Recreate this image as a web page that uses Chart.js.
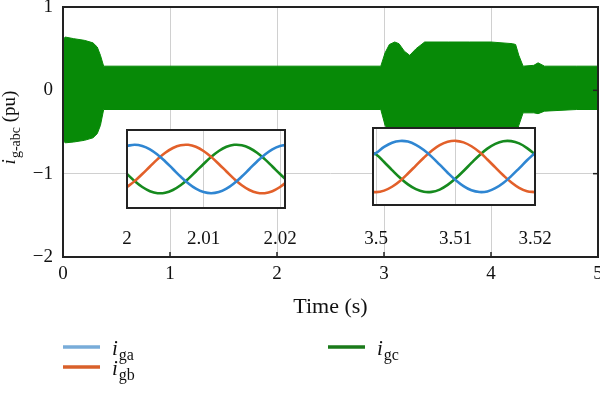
<!DOCTYPE html>
<html>
<head>
<meta charset="utf-8">
<script src="https://cdn.jsdelivr.net/npm/chart.js@4.4.1/dist/chart.umd.min.js"></script>
<style>
  html, body { margin: 0; padding: 0; background: #fff; }
  #wrap { position: relative; width: 600px; height: 393px; }
  canvas { position: absolute; }
</style>
</head>
<body>
<div id="wrap">
  <canvas id="mainChart" width="600" height="393" style="left:0;top:0"></canvas>
  <canvas id="inset1" width="200" height="126" style="left:107px;top:129px"></canvas>
  <canvas id="inset2" width="205" height="128" style="left:353px;top:127px"></canvas>
</div>
<script>
// envelope of the dense three-phase current (pu) over the whole run
var envTime  = [0, 0.02, 0.1, 0.2, 0.28, 0.32, 0.35, 0.38, 1, 2, 2.97, 3.01, 3.05, 3.1, 3.14, 3.19, 3.24, 3.3, 3.38, 3.6, 3.8, 4.0, 4.2, 4.23, 4.26, 4.3, 4.4, 4.44, 4.5, 4.8, 5];
var envUpper = [0.6, 0.64, 0.62, 0.6, 0.57, 0.52, 0.42, 0.29, 0.29, 0.29, 0.29, 0.45, 0.55, 0.58, 0.56, 0.47, 0.42, 0.5, 0.58, 0.58, 0.58, 0.58, 0.56, 0.55, 0.42, 0.29, 0.3, 0.33, 0.29, 0.29, 0.29];
var envLower = [-0.6, -0.63, -0.62, -0.6, -0.57, -0.52, -0.42, -0.23, -0.23, -0.23, -0.23, -0.42, -0.5, -0.55, -0.54, -0.48, -0.45, -0.5, -0.55, -0.55, -0.55, -0.55, -0.55, -0.54, -0.42, -0.27, -0.27, -0.28, -0.25, -0.23, -0.23];

// zoom 1: 2.00 - 2.02 s
var inset1Time = [2.000, 2.001, 2.002, 2.003, 2.004, 2.005, 2.006, 2.007, 2.008, 2.009, 2.010, 2.011, 2.012, 2.013, 2.014, 2.015, 2.016, 2.017, 2.018, 2.019, 2.020, 2.021];
var inset1A = [0.266, 0.28, 0.266, 0.227, 0.165, 0.087, 0, -0.087, -0.165, -0.227, -0.266, -0.28, -0.266, -0.227, -0.165, -0.087, 0, 0.087, 0.165, 0.227, 0.266, 0.28];
var inset1B = [-0.208, -0.14, -0.058, 0.029, 0.114, 0.187, 0.242, 0.274, 0.279, 0.256, 0.208, 0.14, 0.058, -0.029, -0.114, -0.187, -0.242, -0.274, -0.279, -0.256, -0.208, -0.14];
var inset1C = [-0.058, -0.14, -0.208, -0.256, -0.279, -0.274, -0.242, -0.187, -0.114, -0.029, 0.058, 0.14, 0.208, 0.256, 0.279, 0.274, 0.242, 0.187, 0.114, 0.029, -0.058, -0.14];
var inset1Ticks = [2, 2.01, 2.02];

// zoom 2: 3.50 - 3.52 s
var inset2Time = [3.499, 3.500, 3.501, 3.502, 3.503, 3.504, 3.505, 3.506, 3.507, 3.508, 3.509, 3.510, 3.511, 3.512, 3.513, 3.514, 3.515, 3.516, 3.517, 3.518, 3.519, 3.520];
var inset2A = [0.1, 0.148, 0.214, 0.26, 0.279, 0.272, 0.237, 0.18, 0.105, 0.02, -0.068, -0.148, -0.214, -0.26, -0.279, -0.272, -0.237, -0.18, -0.105, -0.02, 0.068, 0.148];
var inset2B = [-0.269, -0.28, -0.263, -0.221, -0.157, -0.077, 0.01, 0.096, 0.172, 0.232, 0.269, 0.28, 0.263, 0.221, 0.157, 0.077, -0.01, -0.096, -0.172, -0.232, -0.269, -0.28];
var inset2C = [0.17, 0.131, 0.049, -0.039, -0.123, -0.195, -0.247, -0.276, -0.277, -0.252, -0.201, -0.131, -0.049, 0.039, 0.123, 0.195, 0.247, 0.276, 0.277, 0.252, 0.201, 0.131];
var inset2Ticks = [3.5, 3.51, 3.52];

var seriesNames = ['ga', 'gb', 'gc'];
var lineColors = ['#2f86d2', '#e2602a', '#168a1e'];
var legendColors = ['#78acd9', '#d9602a', '#1a7a1a'];

var serif = '"Liberation Serif", "DejaVu Serif", serif';

function points(xs, ys) {
    return xs.map(function (x, i) { return { x: x, y: ys[i] }; });
}

function minusLabel(v) {
    return v < 0 ? '\u2212' + Math.abs(v) : String(v);
}

var frameAndText = {
    id: 'frameAndText',
    afterDatasetsDraw: function (chart) {
        var ctx = chart.ctx, a = chart.chartArea, sx = chart.scales.x, sy = chart.scales.y;
        ctx.save();
        ctx.strokeStyle = '#222';
        ctx.lineWidth = 1.5;
        [1, 2, 3, 4].forEach(function (v) {
            var px = sx.getPixelForValue(v);
            ctx.beginPath(); ctx.moveTo(px, a.bottom); ctx.lineTo(px, a.bottom - 5); ctx.stroke();
        });
        [0, -1].forEach(function (v) {
            var py = sy.getPixelForValue(v);
            ctx.beginPath(); ctx.moveTo(a.right, py); ctx.lineTo(a.right - 5, py); ctx.stroke();
        });
        ctx.lineWidth = 2;
        ctx.strokeRect(a.left, a.top, a.right - a.left, a.bottom - a.top);
        ctx.restore();
    },
    afterDraw: function (chart) {
        var ctx = chart.ctx;
        ctx.save();
        ctx.fillStyle = '#111';
        ctx.textBaseline = 'alphabetic';

        // y axis title: i_g-abc (pu)
        ctx.translate(15, 128);
        ctx.rotate(-Math.PI / 2);
        ctx.font = 'italic 19px ' + serif;
        var wI = ctx.measureText('i').width;
        ctx.font = '14px ' + serif;
        var wS = ctx.measureText('g-abc').width;
        ctx.font = '19px ' + serif;
        var wP = ctx.measureText(' (pu)').width;
        var x = -(wI + wS + wP) / 2;
        ctx.font = 'italic 19px ' + serif;
        ctx.fillText('i', x, 0); x += wI + 1;
        ctx.font = '14px ' + serif;
        ctx.fillText('g-abc', x, 5); x += wS;
        ctx.font = '19px ' + serif;
        ctx.fillText(' (pu)', x, 0);
        ctx.setTransform(1, 0, 0, 1, 0, 0);

        // legend
        var pos = [[63, 347], [63, 367], [328, 347]];
        seriesNames.forEach(function (name, i) {
            var lx = pos[i][0], ly = pos[i][1];
            ctx.strokeStyle = legendColors[i];
            ctx.lineWidth = 3.5;
            ctx.beginPath(); ctx.moveTo(lx, ly); ctx.lineTo(lx + 37, ly); ctx.stroke();
            ctx.font = 'italic 21px ' + serif;
            ctx.fillText('i', lx + 49, ly + 8);
            var w = ctx.measureText('i').width;
            ctx.font = '16px ' + serif;
            ctx.fillText(name, lx + 50 + w, ly + 13);
        });
        ctx.restore();
    }
};

var insetBox = {
    id: 'insetBox',
    beforeDraw: function (chart) {
        var ctx = chart.ctx, a = chart.chartArea;
        ctx.save();
        ctx.fillStyle = '#fff';
        ctx.fillRect(a.left, a.top, a.right - a.left, a.bottom - a.top);
        ctx.restore();
    },
    afterDraw: function (chart) {
        var ctx = chart.ctx, a = chart.chartArea;
        ctx.save();
        ctx.strokeStyle = '#222';
        ctx.lineWidth = 2;
        ctx.strokeRect(a.left, a.top, a.right - a.left, a.bottom - a.top);
        ctx.restore();
    }
};

new Chart(document.getElementById('mainChart').getContext('2d'), {
    type: 'line',
    data: {
        datasets: [
            {
                label: 'upper',
                data: points(envTime, envUpper),
                borderColor: '#078a07',
                backgroundColor: '#078a07',
                borderWidth: 1,
                pointRadius: 0,
                fill: 1
            },
            {
                label: 'lower',
                data: points(envTime, envLower),
                borderColor: '#078a07',
                borderWidth: 1,
                pointRadius: 0,
                fill: false
            }
        ]
    },
    options: {
        responsive: false,
        animation: false,
        devicePixelRatio: 1,
        layout: { padding: { top: 7, right: 2, left: 0, bottom: 73 } },
        plugins: { legend: { display: false }, tooltip: { enabled: false } },
        scales: {
            x: {
                type: 'linear',
                min: 0,
                max: 5,
                ticks: { stepSize: 1, padding: 6, color: '#111', font: { family: serif, size: 19 } },
                grid: { color: '#d0d0d0', drawTicks: false },
                border: { display: false },
                title: { display: true, text: 'Time (s)', color: '#111', font: { family: serif, size: 22 }, padding: 0 },
                afterFit: function (s) { s.height = 63; s.paddingLeft = 0; s.paddingRight = 0; }
            },
            y: {
                min: -2,
                max: 1,
                ticks: { stepSize: 1, padding: 10, color: '#111', font: { family: serif, size: 19 }, callback: minusLabel },
                grid: { color: '#d0d0d0', drawTicks: false },
                border: { display: false },
                afterFit: function (s) { s.width = 63; s.paddingTop = 0; s.paddingBottom = 0; }
            }
        }
    },
    plugins: [frameAndText]
});

function makeInset(id, times, a, b, c, tickVals, xMin, xMax, yRange, pad, axisH, labelPad) {
    var series = [a, b, c];
    new Chart(document.getElementById(id).getContext('2d'), {
        type: 'line',
        data: {
            datasets: series.map(function (vals, i) {
                return {
                    label: seriesNames[i],
                    data: points(times, vals),
                    borderColor: lineColors[i],
                    borderWidth: 2.6,
                    pointRadius: 0,
                    tension: 0.4,
                    fill: false
                };
            })
        },
        options: {
            responsive: false,
            animation: false,
            devicePixelRatio: 1,
            layout: { padding: pad },
            plugins: { legend: { display: false }, tooltip: { enabled: false } },
            scales: {
                x: {
                    type: 'linear',
                    min: xMin,
                    max: xMax,
                    afterBuildTicks: function (s) { s.ticks = tickVals.map(function (v) { return { value: v }; }); },
                    ticks: { padding: labelPad, color: '#111', font: { family: serif, size: 19 }, callback: function (v) { return String(v); } },
                    grid: { color: '#cfcfcf', drawTicks: false },
                    border: { display: false },
                    afterFit: function (s) { s.height = axisH; s.paddingLeft = 0; s.paddingRight = 0; }
                },
                y: {
                    display: false,
                    min: -yRange,
                    max: yRange
                }
            }
        },
        plugins: [insetBox]
    });
}

makeInset('inset1', inset1Time, inset1A, inset1B, inset1C, inset1Ticks, 2, 2.02065, 0.45,
    { left: 20, right: 22, top: 1, bottom: 0 }, 47, 20);
makeInset('inset2', inset2Time, inset2A, inset2B, inset2C, inset2Ticks, 3.4996, 3.52, 0.42,
    { left: 20, right: 23, top: 1, bottom: 0 }, 50, 23);
</script>
</body>
</html>
